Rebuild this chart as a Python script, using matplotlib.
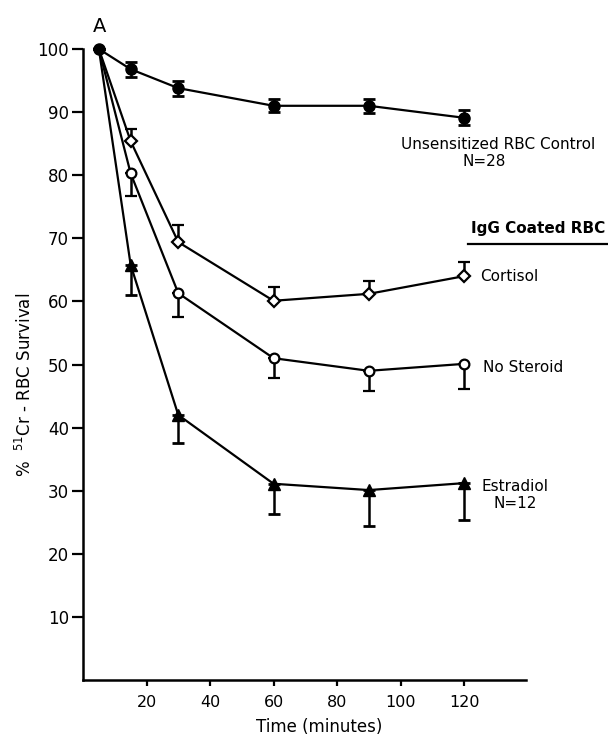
import matplotlib
matplotlib.use("Agg")
import matplotlib.pyplot as plt
from matplotlib.lines import Line2D

plt.rcParams['font.family'] = ['DejaVu Sans']

time = [5, 15, 30, 60, 90, 120]
x_ticks = [20, 40, 60, 80, 100, 120]
y_ticks = [10, 20, 30, 40, 50, 60, 70, 80, 90, 100]

control = [100, 96.8, 93.8, 91.0, 91.0, 89.1]
control_err = [0, 1.2, 1.2, 1.0, 1.1, 1.2]

cortisol = [100, 85.4, 69.4, 60.1, 61.2, 64.0]
cortisol_err_up = [0, 2.0, 2.7, 2.2, 2.0, 2.2]

no_steroid = [100, 80.3, 61.3, 51.0, 49.0, 50.1]
no_steroid_err_low = [0, 3.6, 3.8, 3.1, 3.2, 4.0]

estradiol = [100, 65.8, 42.0, 31.1, 30.1, 31.2]
estradiol_err_low = [0, 4.8, 4.4, 4.8, 5.7, 5.8]

fig = plt.figure(figsize=(6.08, 7.36), dpi=100)
ax = fig.add_axes([83/608, 1-680/736, (526-83)/608, (680-49)/736])

lw = 1.6
common = dict(color='black', lw=lw, capsize=4, capthick=2, elinewidth=1.8, clip_on=False, zorder=3)
skip_first = list(range(1, len(time)))

ax.errorbar(time, estradiol, yerr=[estradiol_err_low, [0]*6], marker='^', ms=8,
            mfc='black', mec='black', markevery=skip_first, **common)
ax.errorbar(time, no_steroid, yerr=[no_steroid_err_low, [0]*6], marker='o', ms=7,
            mfc='white', mec='black', mew=1.6, markevery=skip_first, **common)
ax.errorbar(time, cortisol, yerr=[[0]*6, cortisol_err_up], marker='D', ms=6,
            mfc='white', mec='black', mew=1.6, markevery=skip_first, **common)
ax.errorbar(time, control, yerr=control_err, marker='o', ms=8,
            mfc='black', mec='black', **common)

ax.set_xlim(0, 139.5)
ax.set_ylim(0, 100)
ax.set_xticks(x_ticks)
ax.set_yticks(y_ticks)
ax.set_xticklabels([str(v) for v in x_ticks], fontsize=11.5)
ax.set_yticklabels([str(v) for v in y_ticks], fontsize=12)
ax.tick_params(axis='y', length=8, width=1.6, pad=2)
ax.tick_params(axis='x', length=4, width=1.6, pad=7)
for s in ['top', 'right']:
    ax.spines[s].set_visible(False)
for s in ['left', 'bottom']:
    ax.spines[s].set_linewidth(1.8)

ax.text(5.2, 103.5, 'A', fontsize=14, ha='center', va='center', clip_on=False)
ax.text(130.8, 84.8, 'Unsensitized RBC Control', fontsize=11, ha='center', va='center', clip_on=False)
ax.text(126.4, 82.1, 'N=28', fontsize=11, ha='center', va='center', clip_on=False)
ax.text(143.3, 71.6, 'IgG Coated RBC', fontsize=11, ha='center', va='center', clip_on=False,
        fontweight='bold')
ax.text(125, 63.9, 'Cortisol', fontsize=11, ha='left', va='center', clip_on=False)
ax.text(126, 49.6, 'No Steroid', fontsize=11, ha='left', va='center', clip_on=False)
ax.text(125.6, 30.7, 'Estradiol', fontsize=11, ha='left', va='center', clip_on=False)
ax.text(136, 28.0, 'N=12', fontsize=11, ha='center', va='center', clip_on=False)

fig.add_artist(Line2D([468/608, 608/608], [1-244/736, 1-244/736], color='black', lw=1.6))

fig.text(25/608, 1-385/736, '%  $^{51}$Cr - RBC Survival', rotation=90, fontsize=12,
         ha='center', va='center')
fig.text(319/608, 1-727/736, 'Time (minutes)', fontsize=12, ha='center', va='center')

fig.savefig('out.png', dpi=100)
